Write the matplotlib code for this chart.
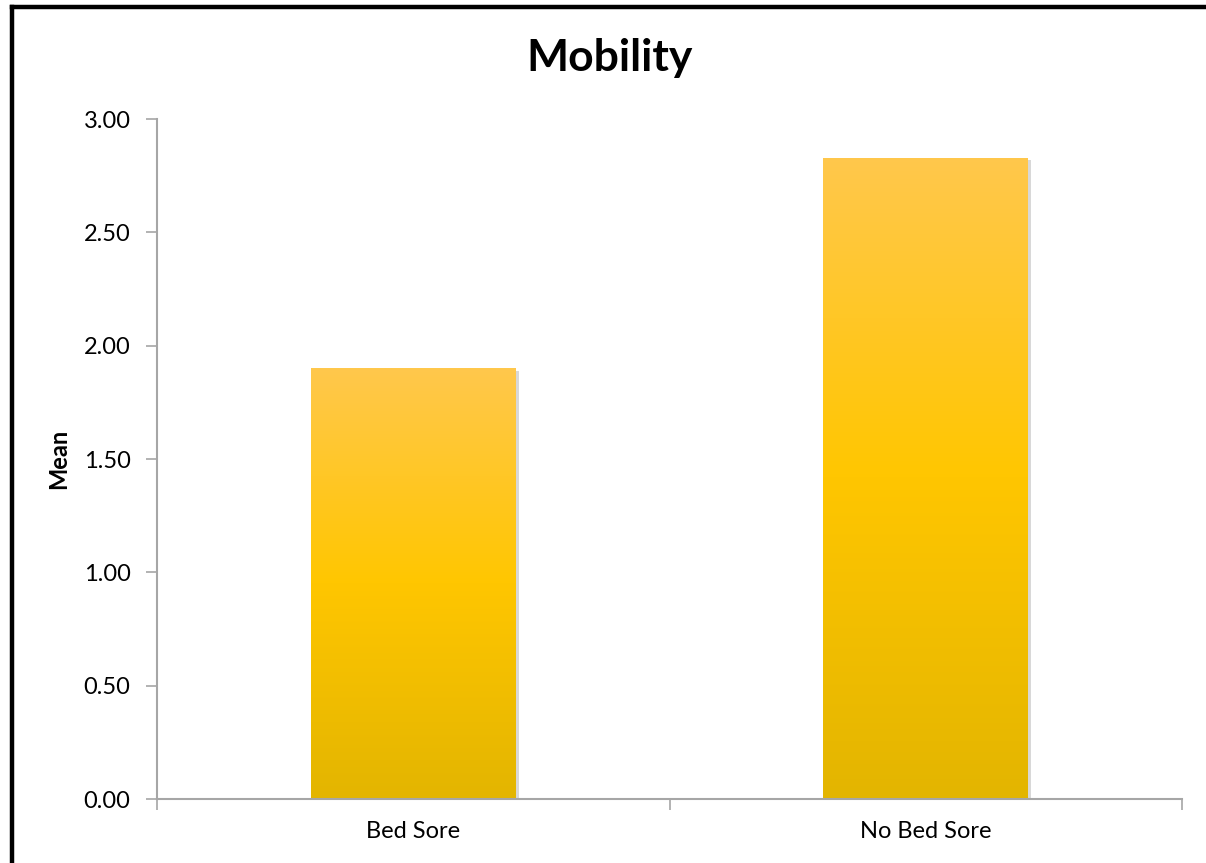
import numpy as np
import matplotlib.pyplot as plt
import matplotlib.patheffects as pe
from matplotlib.colors import LinearSegmentedColormap
from matplotlib.lines import Line2D

categories = ["Bed Sore", "No Bed Sore"]
means = [1.90, 2.83]
yticks = [0.0, 0.5, 1.0, 1.5, 2.0, 2.5, 3.0]

plt.rcParams['font.family'] = ['Lato', 'DejaVu Sans']

W, H = 1206, 863
fig = plt.figure(figsize=(W / 100, H / 100), dpi=100)
ax = fig.add_axes([157 / W, 1 - 799 / H, (1182 - 157) / W, (799 - 119) / H])

x = np.arange(len(categories))
bars = ax.bar(x, means, width=0.4, color='#FFC600', zorder=1)

# vertical gold gradient inside each bar
cmap = LinearSegmentedColormap.from_list('gold', ['#E3B500', '#FFC600', '#FFC84C'])
grad = np.linspace(0, 1, 256).reshape(-1, 1)
for b in bars:
    b.set_path_effects([pe.SimplePatchShadow(offset=(2, -2), shadow_rgbFace='#808080', alpha=0.3),
                        pe.Normal()])
    x0, y0, w, h = b.get_x(), b.get_y(), b.get_width(), b.get_height()
    im = ax.imshow(grad, cmap=cmap, extent=(x0, x0 + w, y0, y0 + h),
                   origin='lower', aspect='auto', zorder=2)
    im.set_clip_path(b)

ax.set_xlim(-0.5, len(categories) - 0.5)
ax.set_ylim(0, 3)

ax.set_yticks(yticks)
ax.set_yticklabels([f"{v:.2f}" for v in yticks], fontsize=17)
ax.set_xticks(x)
ax.set_xticklabels(categories, fontsize=17)
ax.set_xticks([-0.5, 0.5, 1.5], minor=True)
ax.tick_params(axis='x', which='major', length=0, pad=16)
ax.tick_params(axis='x', which='minor', length=8, color='#A6A6A6', width=1.2)
ax.tick_params(axis='y', length=8, color='#A6A6A6', width=1.2, pad=11)

for s in ['top', 'right']:
    ax.spines[s].set_visible(False)
for s in ['left', 'bottom']:
    ax.spines[s].set_color('#A6A6A6')
    ax.spines[s].set_linewidth(1.5)

ax.set_ylabel("Mean", fontsize=17, fontweight='bold', labelpad=10)

fig.text(610 / W, 1 - 58 / H, "Mobility", fontsize=32, fontweight='bold',
         ha='center', va='center')

# outer frame (cropped at the right and bottom)
fig.add_artist(Line2D([11.5 / W, 11.5 / W], [0, 1 - 7.5 / H], color='black', lw=3.2,
                      solid_capstyle='projecting'))
fig.add_artist(Line2D([11.5 / W, 1], [1 - 7.5 / H, 1 - 7.5 / H], color='black', lw=3.2,
                      solid_capstyle='projecting'))

fig.savefig("out.png", dpi=100)
